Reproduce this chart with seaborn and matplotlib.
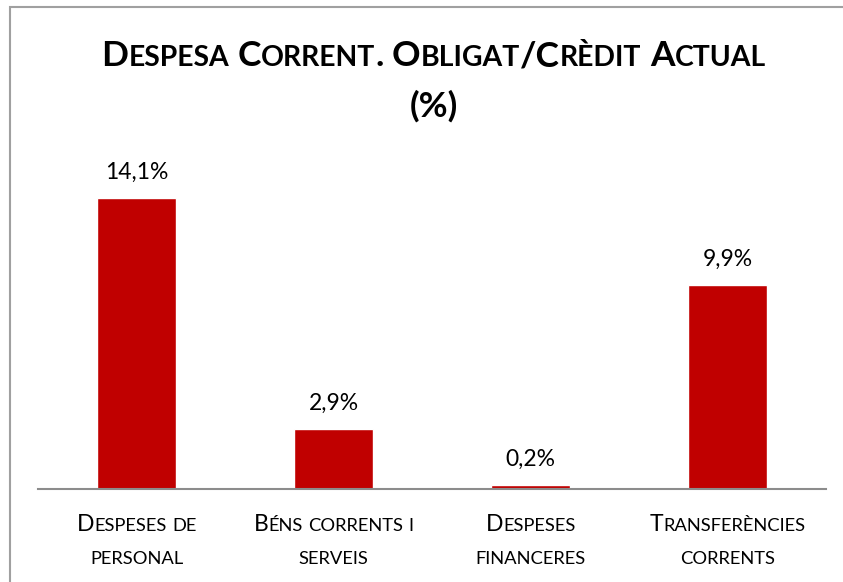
import matplotlib
matplotlib.use("Agg")
import matplotlib.pyplot as plt
import seaborn as sns
from matplotlib.offsetbox import TextArea, HPacker, VPacker, AnnotationBbox
from matplotlib.patches import Rectangle

title_lines = ["Despesa Corrent. Obligat/Crèdit Actual", "(%)"]
categories = ["Despeses de personal", "Béns corrents i serveis",
              "Despeses financeres", "Transferències corrents"]
label_lines = [["Despeses de", "personal"], ["Béns corrents i", "serveis"],
               ["Despeses", "financeres"], ["Transferències", "corrents"]]
values = [14.1, 2.9, 0.2, 9.9]

FONT = "Lato"
BAR_COLOR = "#C00000"


def smallcaps_line(text, size, weight="normal", ratio=0.8):
    # fake small caps: lowercase letters drawn as smaller capitals
    words = []
    for word in text.split(" "):
        runs = []
        cur, cur_low = "", None
        for ch in word:
            low = ch.islower()
            if cur and low != cur_low:
                runs.append((cur, cur_low))
                cur = ""
            cur += ch
            cur_low = low
        if cur:
            runs.append((cur, cur_low))
        parts = [TextArea(r.upper(), textprops=dict(
                    size=size * ratio if low else size, weight=weight,
                    family=FONT, color="black"))
                 for r, low in runs]
        words.append(HPacker(children=parts, align="baseline", pad=0, sep=0))
    return HPacker(children=words, align="baseline", pad=0, sep=size * 0.24)


def smallcaps_block(lines, size, weight="normal", sep=4):
    rows = [smallcaps_line(l, size, weight) for l in lines]
    return VPacker(children=rows, align="center", pad=0, sep=sep)


def main():
    sns.set_style("white")
    plt.rcParams["font.family"] = [FONT, "DejaVu Sans"]

    fig = plt.figure(figsize=(8.43, 5.82), dpi=100)
    ax = fig.add_axes([38 / 843, 1 - 489 / 582, (826 - 38) / 843, 0.5636])

    sns.barplot(x=categories, y=values, color=BAR_COLOR, saturation=1,
                width=0.4, ax=ax)
    ax.set_ylim(0, 15.9)
    ax.set_xlim(-0.5, len(categories) - 0.5)

    for s in ["top", "right", "left"]:
        ax.spines[s].set_visible(False)
    ax.spines["bottom"].set_color("#8C8C8C")
    ax.spines["bottom"].set_linewidth(1.5)
    ax.set_yticks([])
    ax.set_xticks(range(len(categories)))
    ax.set_xticklabels([])
    ax.tick_params(axis="x", length=0)
    ax.set_xlabel("")
    ax.set_ylabel("")

    labels = [f"{v:.1f}".replace(".", ",") + "%" for v in values]
    ax.bar_label(ax.containers[0], labels=labels, padding=11, fontsize=16.5,
                 family=FONT, color="black")

    for i, lines in enumerate(label_lines):
        box = smallcaps_block(lines, 16.5, sep=11.5)
        ab = AnnotationBbox(box, (i, -0.075), xycoords=("data", "axes fraction"),
                            box_alignment=(0.5, 1), frameon=False, pad=0)
        ax.add_artist(ab)

    title = smallcaps_block(title_lines, 25.5, weight="bold", sep=13)
    ab = AnnotationBbox(title, (433.5 / 843, 1 - 40 / 582),
                        xycoords="figure fraction", box_alignment=(0.5, 1),
                        frameon=False, pad=0)
    fig.add_artist(ab)

    fig.add_artist(Rectangle((10 / 843, -0.1), 1.2, 1 - 7 / 582 + 0.1,
                             transform=fig.transFigure, fill=False,
                             edgecolor="#A0A0A0", linewidth=1.5))

    fig.savefig("out.png", dpi=100)
    plt.close(fig)


if __name__ == "__main__":
    main()
